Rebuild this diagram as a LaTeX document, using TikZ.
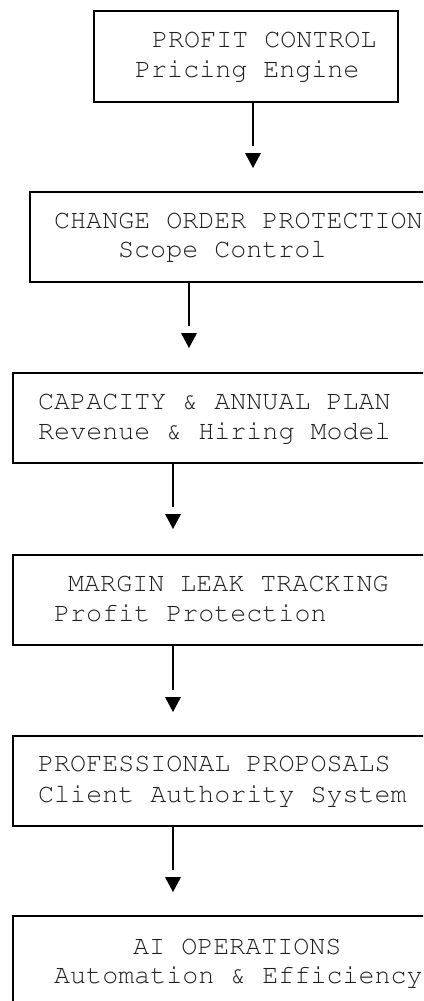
\documentclass[tikz,border=0pt]{standalone}
\usepackage[T1]{fontenc}
\usepackage{courier}
\usetikzlibrary{calc}
\begin{document}
\begin{tikzpicture}[x=1pt,y=-1pt,
  stagebox/.style={draw=black, line width=2pt, rectangle, inner sep=0pt, anchor=north west},
  label/.style={anchor=base west, inner sep=0pt, text=black!88,
    font=\ttfamily\fontsize{26.7}{30}\selectfont},
  shaft/.style={draw=black, line width=2pt},
  tip/.style={fill=black}
]
\path[use as bounding box, clip] (0,0) rectangle (423,1001);
\fill[white] (0,0) rectangle (423,1001);

% stage boxes
\node[stagebox, minimum width=304pt, minimum height=91pt] (b1) at (93,10) {};
\node[stagebox, minimum width=420pt, minimum height=90pt] (b2) at (29,191) {};
\node[stagebox, minimum width=430pt, minimum height=90pt] (b3) at (12,372) {};
\node[stagebox, minimum width=430pt, minimum height=90pt] (b4) at (12,554) {};
\node[stagebox, minimum width=430pt, minimum height=90pt] (b5) at (12,735) {};
\node[stagebox, minimum width=430pt, minimum height=90pt] (b6) at (12,915) {};

% box texts
\node[label] (h1) at (152,47) {PROFIT CONTROL};
\node[label] (s1) at (135,77) {Pricing Engine};
\node[label] (h2) at (54,228) {CHANGE ORDER PROTECTION};
\node[label] (s2) at (118,257) {Scope Control};
\node[label] (h3) at (38,409) {CAPACITY \& ANNUAL PLAN};
\node[label] (s3) at (38,439) {Revenue \& Hiring Model};
\node[label] (h4) at (68,591) {MARGIN LEAK TRACKING};
\node[label] (s4) at (54,621) {Profit Protection};
\node[label] (h5) at (38,771) {PROFESSIONAL PROPOSALS};
\node[label] (s5) at (38,802) {Client Authority System};
\node[label] (h6) at (133,954) {AI OPERATIONS};
\node[label] (s6) at (54,983) {Automation \& Efficiency};

% triangle tips (top-centre points)
\coordinate (t1) at (253,153);
\coordinate (t2) at (189,333);
\coordinate (t3) at (173,514);
\coordinate (t4) at (173,697);
\coordinate (t5) at (173,877);

\foreach \t in {t1,t2,t3,t4,t5}
  \fill[tip] (\t) ++(-8,0) -- ++(16,0) -- ++(-8,15) -- cycle;

% connectors
\draw[shaft] (b1.south -| t1) -- ($(t1)+(0,-7)$);
\draw[shaft] (b2.south -| t2) -- ($(t2)+(0,-7)$);
\draw[shaft] (b3.south -| t3) -- ($(t3)+(0,-7)$);
\draw[shaft] (b4.south -| t4) -- ($(t4)+(0,-7)$);
\draw[shaft] (b5.south -| t5) -- ($(t5)+(0,-7)$);
\end{tikzpicture}
\end{document}
